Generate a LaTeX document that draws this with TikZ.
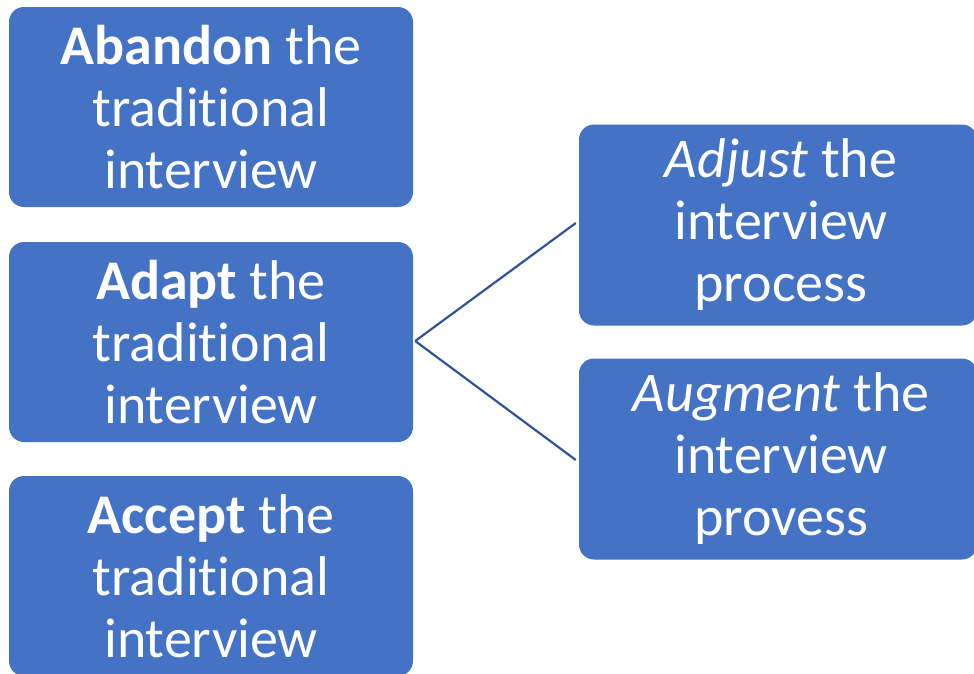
\documentclass[tikz,border=0pt]{standalone}
\usepackage{fontspec}
\setmainfont[RawFeature={-liga;-clig;-calt;-dlig}]{Carlito}
\definecolor{boxblue}{HTML}{4472C4}
\definecolor{lineblue}{HTML}{2F5597}
\begin{document}
\begin{tikzpicture}[x=1pt,y=-1pt,
  card/.style={fill=boxblue, draw=none, rounded corners=15pt, text=white,
    minimum width=404pt, minimum height=200pt, inner sep=0pt, align=center,
    font=\fontsize{56}{62}\selectfont},
  rcard/.style={card, minimum width=398pt, minimum height=201pt},
  link/.style={draw=lineblue, line width=2.2pt}]
\useasboundingbox (0,0) rectangle (974,673);
\node[card] (abandon) at (211,107) {\textbf{Abandon} the\\traditional\\interview};
\node[card] (adapt) at (211,342) {\textbf{Adapt} the\\traditional\\interview};
\node[card] (accept) at (211,576) {\textbf{Accept} the\\traditional\\interview};
\node[rcard] (adjust) at (778,225) {\hspace*{6pt}\textit{Adjust} the\\\hspace*{6pt}interview\\\hspace*{6pt}process};
\node[rcard] (augment) at (778,459) {\hspace*{6pt}\textit{Augment} the\\\hspace*{6pt}interview\\\hspace*{6pt}provess};
\draw[link] ([xshift=2pt,yshift=1pt]adapt.east) -- ([xshift=-3pt,yshift=2pt]adjust.west);
\draw[link] ([xshift=2pt,yshift=1pt]adapt.east) -- ([xshift=-3pt,yshift=-1pt]augment.west);
\end{tikzpicture}
\end{document}
